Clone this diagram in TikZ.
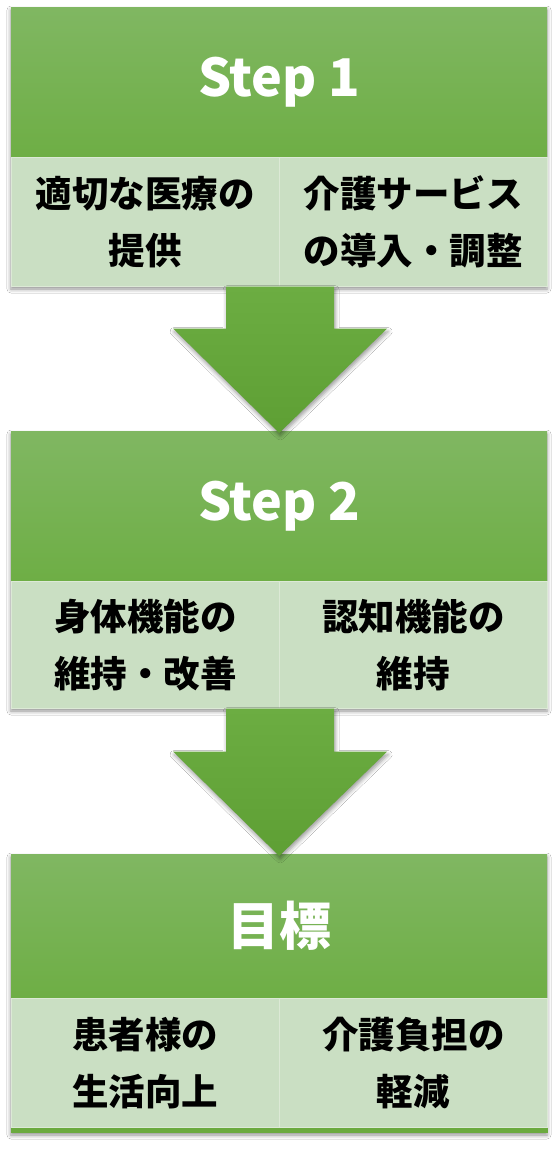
\documentclass[tikz,border=0pt]{standalone}
\usepackage{fontspec}
\setmainfont{Noto Sans CJK JP}
\usetikzlibrary{calc,shadows.blur}
\definecolor{hdtop}{HTML}{80B762}
\definecolor{hdbot}{HTML}{6EAE45}
\definecolor{cellfill}{HTML}{CADFC3}
\definecolor{cellline}{HTML}{DCE9D6}
\definecolor{artop}{HTML}{6CAD42}
\definecolor{arbot}{HTML}{5E9F34}
\definecolor{strip}{HTML}{6BAA3F}
\tikzset{
  header/.style={anchor=north west, inner sep=0pt, minimum width=536pt, minimum height=#1,
    top color=hdtop, bottom color=hdbot, draw=none, text=white,
    font=\fontsize{52}{60}\selectfont\bfseries},
  cell/.style={anchor=north west, inner sep=0pt, minimum width=268pt, minimum height=#1,
    fill=cellfill, draw=cellline, line width=0.6pt, text=black, align=center,
    font=\fontsize{36.5}{57}\selectfont\bfseries},
  boxshadow/.style={fill=white, blur shadow={shadow xshift=0pt, shadow yshift=-3pt,
    shadow blur radius=4pt, shadow opacity=45}},
  bigarrow/.style={top color=artop, bottom color=arbot, draw=none,
    blur shadow={shadow xshift=1pt, shadow yshift=-3pt, shadow blur radius=4pt, shadow opacity=40}}
}
\begin{document}
\begin{tikzpicture}[x=1pt,y=-1pt]
\useasboundingbox[fill=white] (0,0) rectangle (558,1151);
% ---- Step 1
\path[boxshadow] (11,7) rectangle (547,286);
\node[header=150pt] (h1) at (11,7) {Step 1};
\node[cell=129pt] (c1l) at (11,157) {適切な医療の\\提供};
\node[cell=129pt] (c1r) at (279,157) {介護サービス\\の導入・調整};
% ---- Step 2
\path[boxshadow] (11,431) rectangle (547,708);
\node[header=150pt] (h2) at (11,431) {Step 2};
\node[cell=127pt] (c2l) at (11,581) {身体機能の\\維持・改善};
\node[cell=127pt] (c2r) at (279,581) {認知機能の\\維持};
% ---- Goal
\path[boxshadow] (11,854) rectangle (547,1132);
\node[header=144pt] (h3) at (11,854) {目標};
\node[cell=129pt] (c3l) at (11,998) {患者様の\\生活向上};
\node[cell=129pt] (c3r) at (279,998) {介護負担の\\軽減};
\fill[strip] (c3l.south west) rectangle ($(c3r.south east)+(0,5)$);
% ---- Arrows
\coordinate (a1top) at ($(c1l.south east)+(0.5,0)$);
\coordinate (a1tip) at ($(h2.north west)!0.5!(h2.north east)+(0,2)$);
\path[bigarrow] ($(a1top)+(-54,0)$) -- ($(a1top)+(54,0)$) -- ($(a1top)+(54,42)$)
  -- ($(a1top)+(107,42)$) -- (a1tip) -- ($(a1top)+(-107,42)$) -- ($(a1top)+(-54,42)$) -- cycle;
\coordinate (a2top) at ($(c2l.south east)+(0.5,0)$);
\coordinate (a2tip) at ($(h3.north west)!0.5!(h3.north east)+(0,2)$);
\path[bigarrow] ($(a2top)+(-54,0)$) -- ($(a2top)+(54,0)$) -- ($(a2top)+(54,43)$)
  -- ($(a2top)+(107,43)$) -- (a2tip) -- ($(a2top)+(-107,43)$) -- ($(a2top)+(-54,43)$) -- cycle;
\end{tikzpicture}
\end{document}
